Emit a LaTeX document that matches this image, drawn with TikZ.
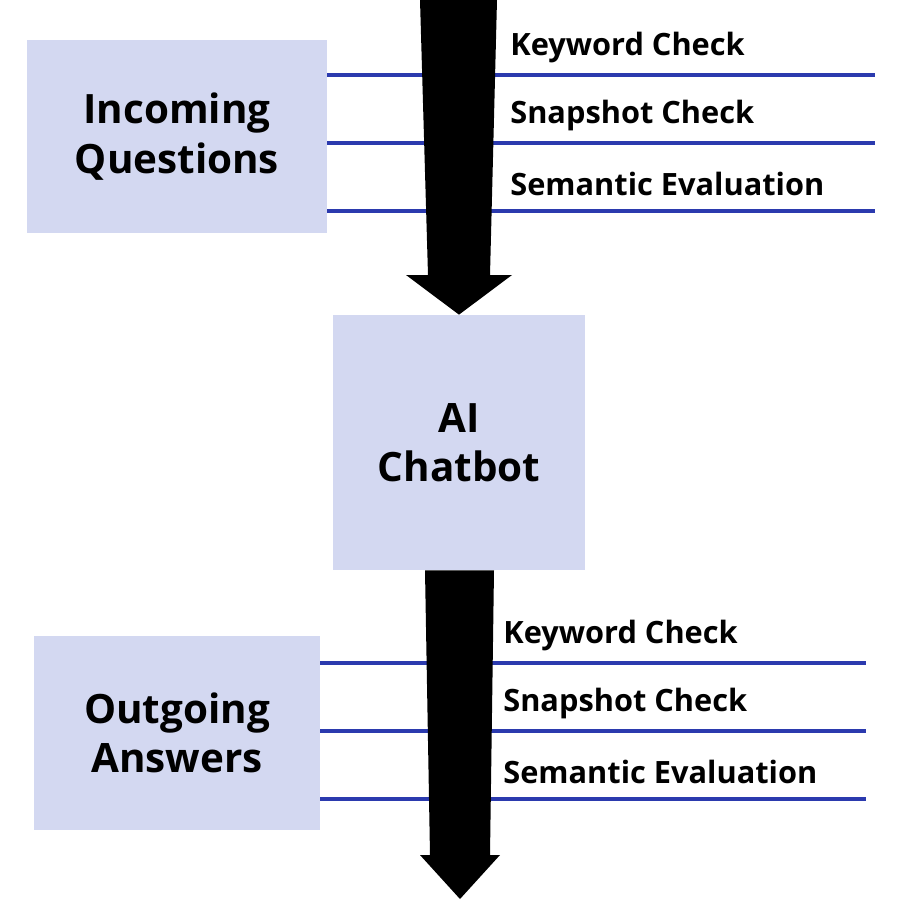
\documentclass[tikz,border=0pt]{standalone}
\usepackage{fontspec}
\setmainfont{Open Sans}
\definecolor{boxc}{HTML}{D3D8F1}
\definecolor{linec}{HTML}{2B3AAE}
\begin{document}
\begin{tikzpicture}[x=0.02cm,y=-0.02cm,
 box/.style={fill=boxc,draw=none,inner sep=0,align=center,font=\bfseries\fontsize{23}{28}\selectfont},
 lab/.style={anchor=west,inner sep=0,font=\bfseries\fontsize{17.5}{20}\selectfont},
 ln/.style={draw=linec,line width=2.2pt}]
\useasboundingbox (0,0) rectangle (900,900);
\node[box,minimum width=300*0.02cm,minimum height=193*0.02cm] (inq) at (177,136.5) {Incoming\\Questions};
\node[box,minimum width=252*0.02cm,minimum height=255*0.02cm] (bot) at (459,442.5) {AI\\Chatbot};
\node[box,minimum width=286*0.02cm,minimum height=194*0.02cm] (out) at (177,733) {Outgoing\\Answers};
\foreach \y/\t [count=\i] in {75/Keyword Check,143/Snapshot Check,211/Semantic Evaluation}{
 \coordinate (a\i) at (875,\y);
 \draw[ln] (inq.east|-a\i) -- (a\i);
 \node[lab] (la\i) at (510,\y-27) {\t};}
\foreach \y/\t [count=\i] in {663/Keyword Check,731/Snapshot Check,799/Semantic Evaluation}{
 \coordinate (b\i) at (866,\y);
 \draw[ln] (out.east|-b\i) -- (b\i);
 \node[lab] (lb\i) at (503,\y-27) {\t};}
\coordinate (t0) at (459,0);
\fill[black] (420,0) -- (497,0) -- (490,275) -- (512,275) -- (bot.north) -- (406,275) -- (428,275) -- cycle;
\fill[black] (bot.south -| 425,0) -- (bot.south -| 494,0) -- (490,855) -- (500,855) -- (460,899) -- (420,855) -- (430,855) -- cycle;
\end{tikzpicture}
\end{document}
